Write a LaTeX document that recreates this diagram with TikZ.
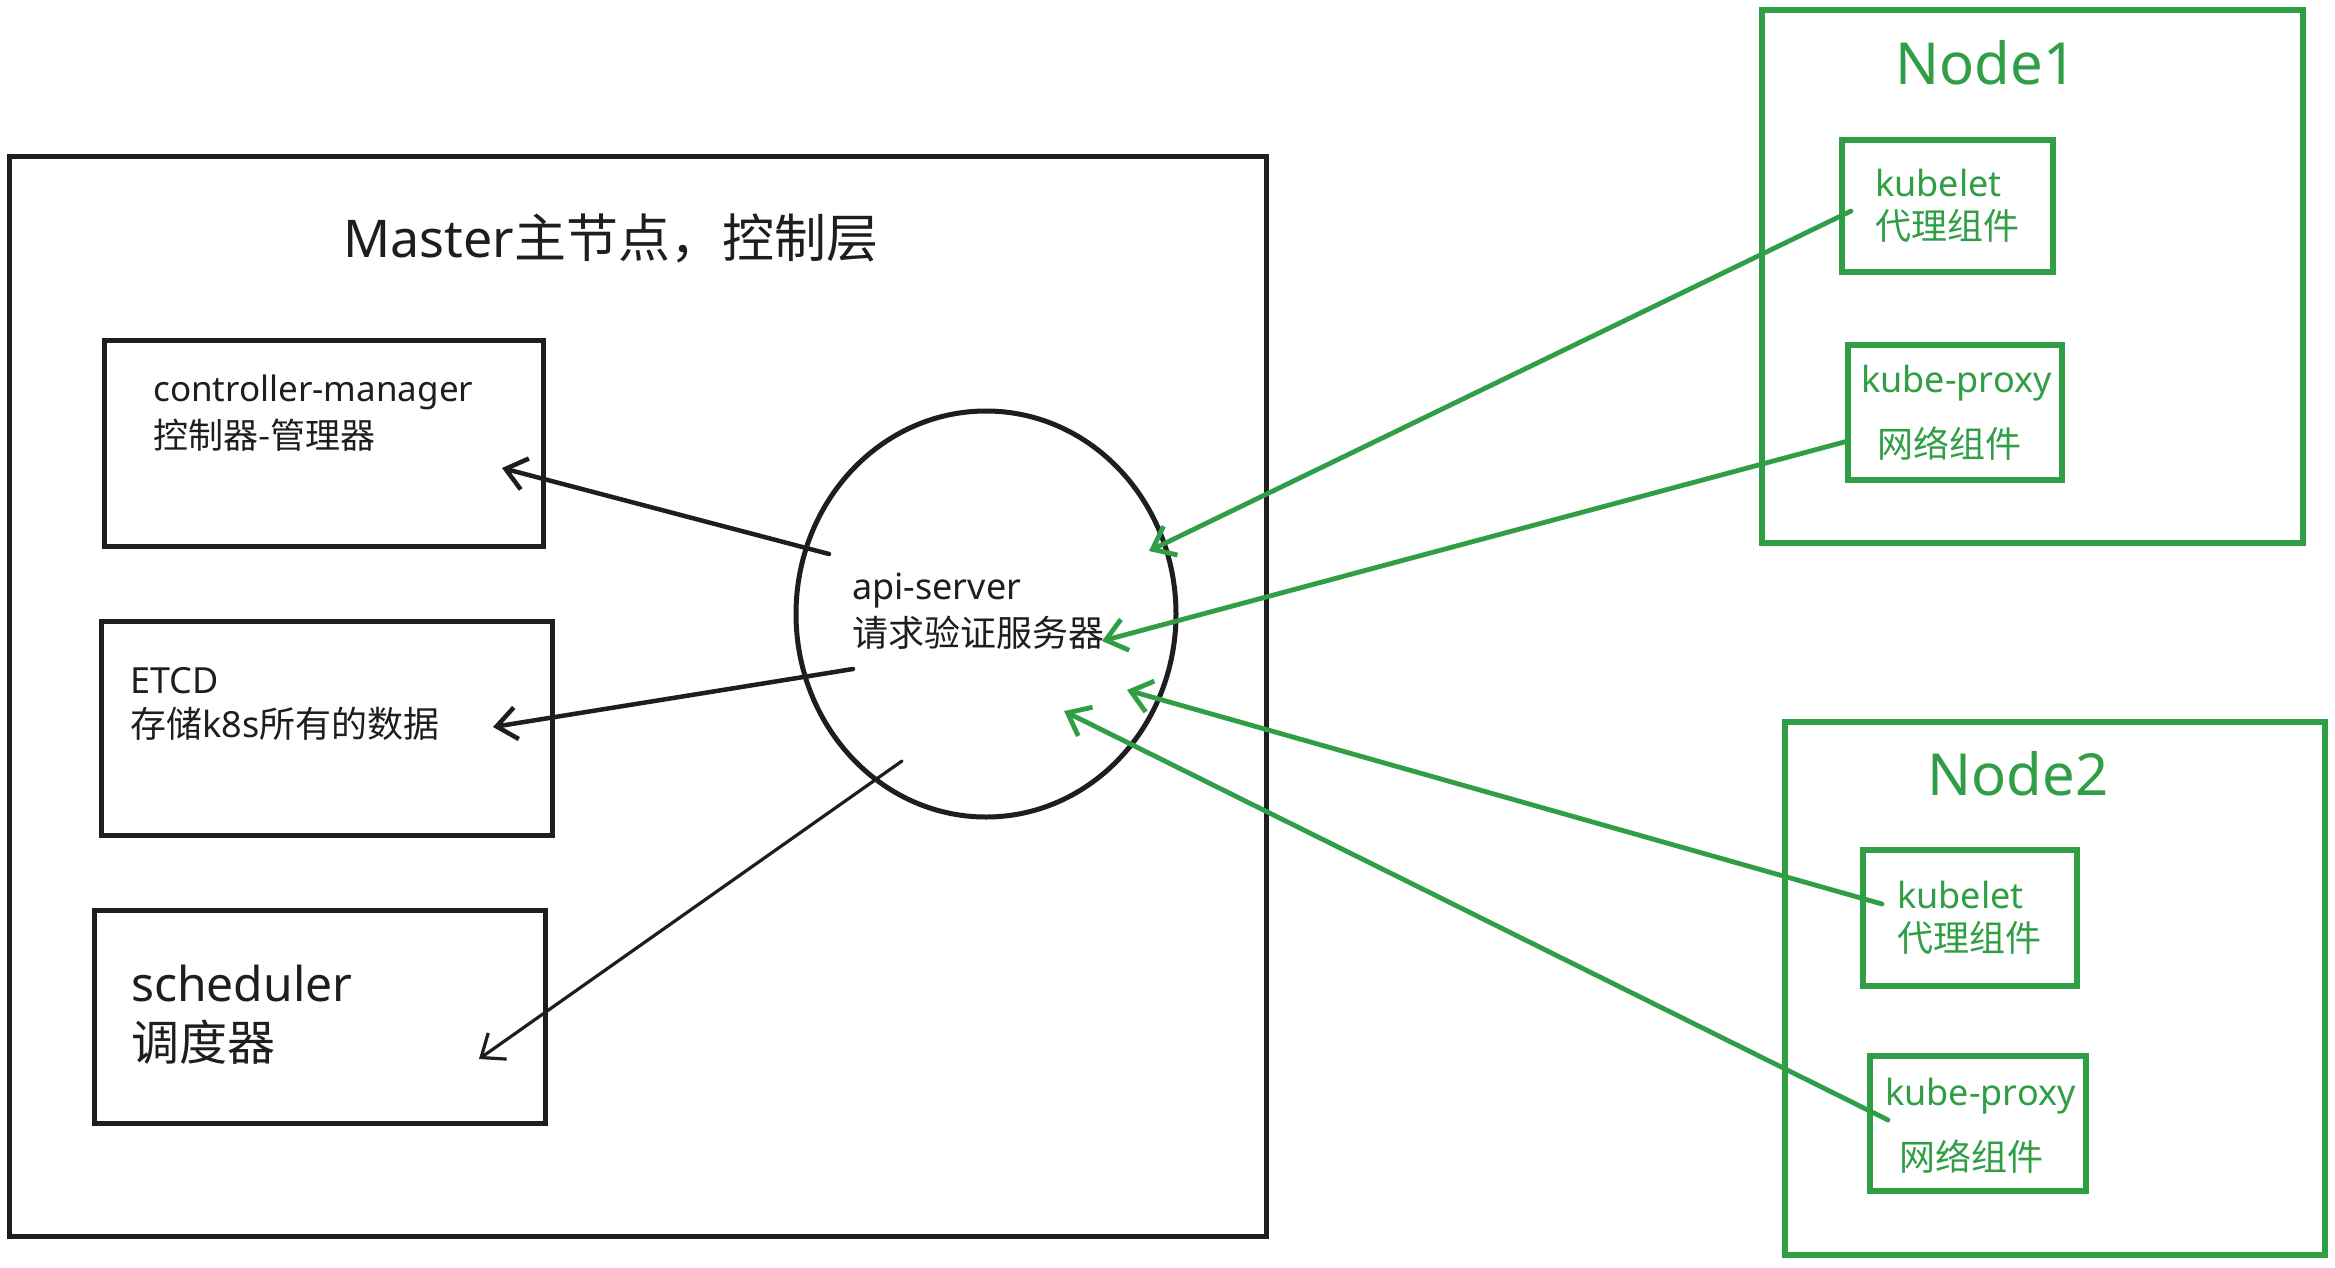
\documentclass[tikz,border=0pt]{standalone}
\usepackage{fontspec}
\setmainfont{Noto Sans}
\newfontfamily\cjk{Noto Sans CJK SC}
\usetikzlibrary{shapes.geometric,arrows.meta}
\definecolor{ink}{HTML}{1E1E1E}
\definecolor{grn}{HTML}{2F9E44}
\begin{document}
\begin{tikzpicture}[x=1pt,y=-1pt,
  box/.style={draw=ink,line width=5pt,rectangle,inner sep=0pt},
  gbox/.style={draw=grn,line width=6pt,rectangle,inner sep=0pt},
  txt/.style={text=ink,inner sep=0pt,anchor=west,font=\fontsize{35}{40}\selectfont},
  gtxt/.style={text=grn,inner sep=0pt,anchor=west,font=\fontsize{36}{42}\selectfont},
  arr/.style={draw=ink,line width=4.5pt,line cap=round,-{Straight Barb[length=20pt,width=32pt]}},
  garr/.style={draw=grn,line width=4.8pt,line cap=round,-{Straight Barb[length=20pt,width=32pt]}}]
\useasboundingbox (0,0) rectangle (2335,1267);
\fill[white] (0,0) rectangle (2335,1267);

% Master
\node[box,minimum width=1257pt,minimum height=1080pt] (master) at (637.5,696) {};
\node[text=ink,inner sep=0pt,font=\fontsize{52}{60}\selectfont] (mtitle) at (611,238) {Master{\cjk 主节点，控制层}};

\node[box,minimum width=439pt,minimum height=206pt] (cm) at (323.5,443) {};
\node[txt] (cmt1) at (153,392) {controller-manager};
\node[txt] (cmt2) at (153,435) {\cjk 控制器-管理器};

\node[box,minimum width=451pt,minimum height=214pt] (etcd) at (326.5,728) {};
\node[txt,font=\fontsize{36}{42}\selectfont] (et1) at (130,681) {ETCD};
\node[txt,font=\fontsize{36}{42}\selectfont] (et2) at (130,724) {{\cjk 存储}k8s{\cjk 所有的数据}};

\node[box,minimum width=451pt,minimum height=213pt] (sch) at (319.5,1016.5) {};
\node[txt,font=\fontsize{48}{56}\selectfont] (sc1) at (131,983) {scheduler};
\node[txt,font=\fontsize{48}{56}\selectfont] (sc2) at (131,1042) {\cjk 调度器};

\node[draw=ink,line width=5pt,ellipse,inner sep=0pt,minimum width=380pt,minimum height=406pt] (api) at (986,614) {};
\node[txt,font=\fontsize{36}{42}\selectfont] (ap1) at (852,591) {api-server};
\node[txt,font=\fontsize{36}{42}\selectfont] (ap2) at (852,633) {\cjk 请求验证服务器};

% Node1
\node[gbox,minimum width=541pt,minimum height=533pt] (n1) at (2032.5,276.5) {};
\node[text=grn,inner sep=0pt,font=\fontsize{58}{66}\selectfont] (n1t) at (1986,63) {Node1};
\node[gbox,minimum width=211pt,minimum height=132pt] (kub1) at (1947.5,206) {};
\node[gtxt] (k1a) at (1875,183) {kubelet};
\node[gtxt] (k1b) at (1875,226) {\cjk 代理组件};
\node[gbox,minimum width=214pt,minimum height=135pt] (kp1) at (1955,412.5) {};
\node[gtxt] (p1a) at (1861,383) {kube-proxy};
\node[gtxt,anchor=center] (p1b) at (1949,444) {\cjk 网络组件};

% Node2
\node[gbox,minimum width=540pt,minimum height=533pt] (n2) at (2055,988.5) {};
\node[text=grn,inner sep=0pt,font=\fontsize{58}{66}\selectfont] (n2t) at (2018,774) {Node2};
\node[gbox,minimum width=214pt,minimum height=136pt] (kub2) at (1970,918) {};
\node[gtxt] (k2a) at (1897,895) {kubelet};
\node[gtxt] (k2b) at (1897,938) {\cjk 代理组件};
\node[gbox,minimum width=216pt,minimum height=135pt] (kp2) at (1978,1123.5) {};
\node[gtxt] (p2a) at (1885,1096) {kube-proxy};
\node[gtxt,anchor=center] (p2b) at (1971,1157) {\cjk 网络组件};

% connector ends
\coordinate (c1s) at (829,554); \coordinate (c1e) at (502,468);
\coordinate (c2s) at (853,669); \coordinate (c2e) at (493,727);
\coordinate (c3s) at (902,761); \coordinate (c3e) at (479,1059);
\coordinate (g1s) at (1851,211); \coordinate (g1e) at (1149,551);
\coordinate (g2s) at (1848,441); \coordinate (g2e) at (1102,641);
\coordinate (g3s) at (1882,904); \coordinate (g3e) at (1127,690);
\coordinate (g4s) at (1888,1120); \coordinate (g4e) at (1064,711);

\draw[arr] (c1s) -- (c1e);
\draw[arr] (c2s) -- (c2e);
\draw[arr,line width=3.2pt] (c3s) -- (c3e);
\draw[garr] (g1s) -- (g1e);
\draw[garr] (g2s) -- (g2e);
\draw[garr] (g3s) -- (g3e);
\draw[garr] (g4s) -- (g4e);
\end{tikzpicture}
\end{document}
